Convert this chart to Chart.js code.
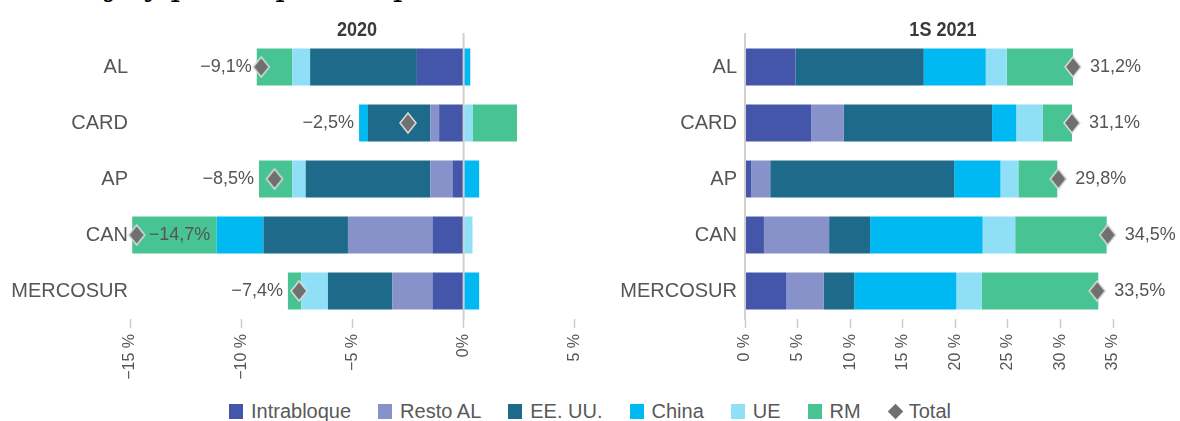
<!DOCTYPE html>
<html lang="es">
<head>
<meta charset="utf-8">
<title>Contribución por bloques, 2020 y 1S 2021</title>
<script src="https://cdn.jsdelivr.net/npm/chart.js@4.4.1/dist/chart.umd.min.js"></script>
<style>
  html, body { margin: 0; padding: 0; background: #fff; }
  body { width: 1180px; height: 421px; position: relative; overflow: hidden; font-family: 'Liberation Sans', Arial, sans-serif; }
  .head { position: absolute; left: 70px; top: -29px; font: 30px/30px 'DejaVu Serif', serif; color: #000; white-space: nowrap; }
  .panel { position: absolute; top: 0; height: 395px; }
  #left { left: 0; width: 600px; }
  #right { left: 600px; width: 580px; }
  .legend { position: absolute; left: 0; width: 1180px; top: 400px; display: flex; justify-content: center; gap: 27px; color: #595959; font-size: 20px; line-height: 22px; }
  .legend .item { display: flex; align-items: center; }
  .sw { width: 14px; height: 15px; margin-right: 8px; }
  .dm { width: 11px; height: 11px; background: #707070; transform: rotate(45deg); margin: 0 8px 0 2px; }
</style>
</head>
<body>
<div class="head">bajo y países por bloques</div>
<div class="panel" id="left"><canvas id="c2020"></canvas></div>
<div class="panel" id="right"><canvas id="c2021"></canvas></div>
<div class="legend" id="legend"></div>
<script>
// categorías y series (contribución en puntos porcentuales)
const bloques = ['AL', 'CARD', 'AP', 'CAN', 'MERCOSUR'];
const series = ['Intrabloque', 'Resto AL', 'EE. UU.', 'China', 'UE', 'RM'];

const intrabloque2020 = [-2.1, -1.1, -0.5, -1.4, -1.4];
const restoAL2020     = [0, -0.4, -1.0, -3.8, -1.8];
const eeuu2020        = [-4.8, -2.8, -5.6, -3.8, -2.9];
const china2020       = [0.3, -0.4, 0.7, -2.1, 0.7];
const ue2020          = [-0.8, 0.4, -0.6, 0.4, -1.2];
const rm2020          = [-1.6, 2.0, -1.5, -3.8, -0.6];
const total2020       = [-9.1, -2.5, -8.5, -14.7, -7.4];

const intrabloque2021 = [4.8, 6.3, 0.6, 1.8, 3.9];
const restoAL2021     = [0, 3.1, 1.8, 6.2, 3.6];
const eeuu2021        = [12.2, 14.1, 17.5, 3.9, 2.9];
const china2021       = [5.9, 2.3, 4.4, 10.7, 9.7];
const ue2021          = [2.0, 2.5, 1.7, 3.1, 2.4];
const rm2021          = [6.3, 2.8, 3.7, 8.7, 11.1];
const total2021       = [31.2, 31.1, 29.8, 34.5, 33.5];

const ticks2020 = [-15, -10, -5, 0, 5];
const ticks2021 = [0, 5, 10, 15, 20, 25, 30, 35];

const colores = ['#4356aa', '#8791ca', '#1d6a8b', '#00b9f2', '#8fe0f7', '#48c393'];
const grisTotal = '#707070';

Chart.defaults.font.family = "'Liberation Sans', Arial, sans-serif";
Chart.defaults.color = '#555';

const pct = v => (v < 0 ? '\u2212' : '') + Math.abs(v).toFixed(1).replace('.', ',') + '%';

// rombo para el total
function rombo(w, h) {
  const c = document.createElement('canvas');
  c.width = w + 4; c.height = h + 4;
  const g = c.getContext('2d');
  const cx = c.width / 2, cy = c.height / 2;
  g.beginPath();
  g.moveTo(cx, cy - h / 2); g.lineTo(cx + w / 2, cy);
  g.lineTo(cx, cy + h / 2); g.lineTo(cx - w / 2, cy);
  g.closePath();
  g.fillStyle = grisTotal; g.fill();
  g.lineWidth = 1.5; g.strokeStyle = '#dcdcdc'; g.stroke();
  return c;
}
const marcaTotal = rombo(16, 20);

const lineaCero = {
  id: 'lineaCero',
  afterDatasetsDraw(chart) {
    const { ctx, chartArea } = chart;
    const x = chart.scales.x.getPixelForValue(0);
    ctx.save();
    ctx.strokeStyle = '#d0d0d0';
    ctx.lineWidth = 2;
    ctx.beginPath();
    ctx.moveTo(x, chartArea.top - 6);
    ctx.lineTo(x, chartArea.bottom + 1);
    ctx.stroke();
    ctx.restore();
  }
};

const etiquetasTotal = {
  id: 'etiquetasTotal',
  afterDatasetsDraw(chart) {
    const { ctx, chartArea } = chart;
    const xs = chart.scales.x, ys = chart.scales.y;
    const barras = chart.data.datasets.filter(d => d.type !== 'line');
    const totales = chart.data.datasets.find(d => d.type === 'line').data;
    ctx.save();
    ctx.font = '18px "Liberation Sans", Arial, sans-serif';
    ctx.fillStyle = '#555';
    ctx.textBaseline = 'middle';
    totales.forEach((t, i) => {
      const y = ys.getPixelForValue(i);
      const txt = pct(t);
      const px = xs.getPixelForValue(t);
      if (t >= 0) {
        ctx.textAlign = 'left';
        ctx.fillText(txt, px + 17, y);
        return;
      }
      let neg = 0;
      barras.forEach(d => { if (d.data[i] < 0) neg += d.data[i]; });
      const ex = xs.getPixelForValue(neg) - 5;
      if (ex - ctx.measureText(txt).width > chartArea.left) {
        ctx.textAlign = 'right';
        ctx.fillText(txt, ex, y);
      } else {
        ctx.textAlign = 'left';
        ctx.fillText(txt, px + 12, y);
      }
    });
    ctx.restore();
  }
};

const tituloPanel = {
  id: 'tituloPanel',
  afterDraw(chart, args, opts) {
    const ctx = chart.ctx;
    ctx.save();
    ctx.font = 'bold 21px "Liberation Sans", Arial, sans-serif';
    ctx.fillStyle = '#3a3a3a';
    ctx.textAlign = 'center';
    ctx.textBaseline = 'alphabetic';
    // texto algo condensado, como en el original
    ctx.translate(opts.x, 36);
    ctx.scale(0.86, 1);
    ctx.fillText(opts.text, 0, 0);
    ctx.restore();
  }
};

function grafico(id, valores, totales, cfg) {
  const datasets = valores.map((vals, k) => ({
    label: series[k],
    data: vals,
    backgroundColor: colores[k],
    borderWidth: 0,
    barPercentage: 0.66,
    categoryPercentage: 1
  }));
  datasets.push({
    type: 'line',
    label: 'Total',
    indexAxis: 'y',
    data: totales,
    showLine: false,
    pointStyle: marcaTotal,
    pointRadius: 9,
    order: -1,
    clip: false
  });

  return new Chart(document.getElementById(id), {
    type: 'bar',
    data: { labels: bloques, datasets },
    plugins: [lineaCero, etiquetasTotal, tituloPanel],
    options: {
      indexAxis: 'y',
      responsive: true,
      maintainAspectRatio: false,
      animation: false,
      events: [],
      layout: { padding: { top: 39, right: cfg.padRight, left: 0, bottom: 0 } },
      scales: {
        x: {
          stacked: true,
          min: cfg.ticks[0],
          max: cfg.ticks[cfg.ticks.length - 1],
          border: { display: false },
          grid: { drawOnChartArea: false, tickLength: 9, tickColor: '#cccccc', tickWidth: 1.5 },
          ticks: {
            stepSize: 5,
            minRotation: 90,
            maxRotation: 90,
            padding: 6,
            color: '#555',
            font: { size: 16 },
            callback: cfg.tickFmt
          },
          afterFit: s => { s.height = 76; }
        },
        y: {
          stacked: true,
          border: { display: false },
          grid: { display: false, drawTicks: false },
          ticks: { color: '#555', font: { size: 20 }, padding: cfg.labelPad },
          afterFit: s => { s.width = cfg.axisWidth; }
        }
      },
      plugins: {
        legend: { display: false },
        tooltip: { enabled: false },
        tituloPanel: { text: cfg.titulo, x: cfg.tituloX }
      }
    }
  });
}

grafico('c2020',
  [intrabloque2020, restoAL2020, eeuu2020, china2020, ue2020, rm2020],
  total2020,
  {
    ticks: ticks2020, padRight: 24, axisWidth: 130, labelPad: 2,
    titulo: '2020', tituloX: 357,
    tickFmt: v => v === 0 ? '0%' : (v < 0 ? '\u2212' : '') + Math.abs(v) + ' %'
  });

grafico('c2021',
  [intrabloque2021, restoAL2021, eeuu2021, china2021, ue2021, rm2021],
  total2021,
  {
    ticks: ticks2021, padRight: 67, axisWidth: 145, labelPad: 8,
    titulo: '1S 2021', tituloX: 343,
    tickFmt: v => v + ' %'
  });

// leyenda común
const leyenda = document.getElementById('legend');
series.forEach((s, k) => {
  const it = document.createElement('span');
  it.className = 'item';
  it.innerHTML = '<span class="sw" style="background:' + colores[k] + '"></span>' + s;
  leyenda.appendChild(it);
});
const tot = document.createElement('span');
tot.className = 'item';
tot.innerHTML = '<span class="dm"></span>Total';
leyenda.appendChild(tot);
</script>
</body>
</html>
